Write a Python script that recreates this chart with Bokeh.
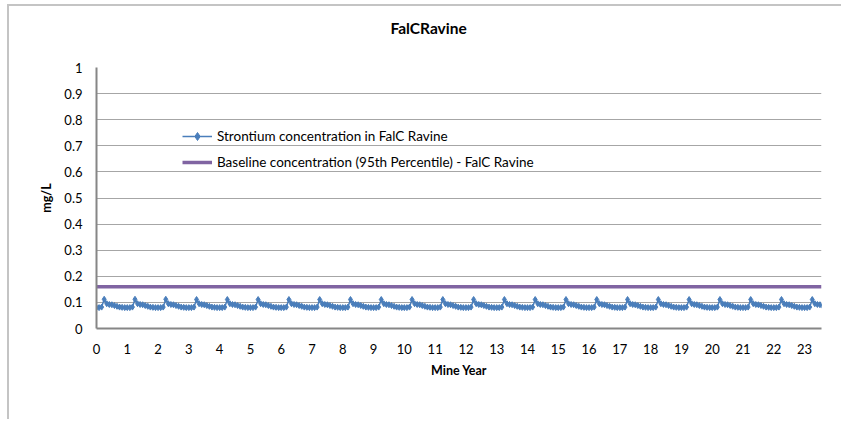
from bokeh.plotting import figure
from bokeh.models import Range1d, FixedTicker, NumeralTickFormatter, Legend, LegendItem, Title
from bokeh.embed import file_html
from bokeh.resources import INLINE

title_text = "FalCRavine"
x_label = "Mine Year"
y_label = "mg/L"
series_name = "Strontium concentration in FalC Ravine"
baseline_name = "Baseline concentration (95th Percentile) - FalC Ravine"

# monthly strontium concentration (mg/L), one row per mine year (12 months)
strontium_by_year = [
    [0.080, 0.080, 0.082, 0.112, 0.095, 0.092, 0.091, 0.088, 0.085, 0.082, 0.081, 0.080],
    [0.080, 0.080, 0.082, 0.112, 0.095, 0.092, 0.091, 0.088, 0.085, 0.082, 0.081, 0.080],
    [0.080, 0.080, 0.082, 0.112, 0.095, 0.092, 0.091, 0.088, 0.085, 0.082, 0.081, 0.080],
    [0.080, 0.080, 0.082, 0.111, 0.095, 0.092, 0.091, 0.088, 0.085, 0.082, 0.081, 0.080],
    [0.080, 0.080, 0.082, 0.111, 0.095, 0.092, 0.091, 0.088, 0.085, 0.082, 0.081, 0.080],
    [0.080, 0.080, 0.082, 0.111, 0.095, 0.092, 0.091, 0.088, 0.085, 0.082, 0.081, 0.080],
    [0.080, 0.080, 0.082, 0.111, 0.095, 0.092, 0.091, 0.088, 0.085, 0.082, 0.081, 0.080],
    [0.080, 0.080, 0.082, 0.111, 0.095, 0.092, 0.091, 0.088, 0.085, 0.082, 0.081, 0.080],
    [0.080, 0.080, 0.082, 0.111, 0.095, 0.092, 0.091, 0.088, 0.085, 0.082, 0.081, 0.080],
    [0.080, 0.080, 0.082, 0.111, 0.095, 0.092, 0.091, 0.088, 0.085, 0.082, 0.081, 0.080],
    [0.080, 0.080, 0.082, 0.111, 0.095, 0.092, 0.091, 0.088, 0.085, 0.082, 0.081, 0.080],
    [0.080, 0.080, 0.082, 0.111, 0.095, 0.092, 0.091, 0.088, 0.085, 0.082, 0.081, 0.080],
    [0.080, 0.080, 0.082, 0.111, 0.095, 0.092, 0.091, 0.088, 0.085, 0.082, 0.081, 0.080],
    [0.080, 0.080, 0.082, 0.111, 0.095, 0.092, 0.091, 0.088, 0.085, 0.082, 0.081, 0.080],
    [0.080, 0.080, 0.082, 0.111, 0.095, 0.092, 0.091, 0.088, 0.085, 0.082, 0.081, 0.080],
    [0.080, 0.080, 0.082, 0.111, 0.095, 0.092, 0.091, 0.088, 0.085, 0.082, 0.081, 0.080],
    [0.080, 0.080, 0.082, 0.111, 0.095, 0.092, 0.091, 0.088, 0.085, 0.082, 0.081, 0.080],
    [0.080, 0.080, 0.082, 0.111, 0.095, 0.092, 0.091, 0.088, 0.085, 0.082, 0.081, 0.080],
    [0.080, 0.080, 0.082, 0.111, 0.095, 0.092, 0.091, 0.088, 0.085, 0.082, 0.081, 0.080],
    [0.080, 0.080, 0.082, 0.111, 0.095, 0.092, 0.091, 0.088, 0.085, 0.082, 0.081, 0.080],
    [0.080, 0.080, 0.082, 0.111, 0.095, 0.092, 0.091, 0.088, 0.085, 0.082, 0.081, 0.080],
    [0.080, 0.080, 0.082, 0.111, 0.095, 0.092, 0.091, 0.088, 0.085, 0.082, 0.081, 0.080],
    [0.080, 0.080, 0.082, 0.111, 0.095, 0.092, 0.091, 0.088, 0.085, 0.082, 0.081, 0.080],
    [0.080, 0.080, 0.082, 0.111, 0.095, 0.092, 0.091, 0.087],
]
baseline_value = 0.16
months_per_year = 12

x_start, x_end = 0, 23.55
y_ticks = [0, 0.1, 0.2, 0.3, 0.4, 0.5, 0.6, 0.7, 0.8, 0.9, 1.0]
x_ticks = list(range(24))

sr_x, sr_y = [], []
for yr, row in enumerate(strontium_by_year):
    for m, v in enumerate(row):
        sr_x.append(yr + m / months_per_year)
        sr_y.append(v)

FONT = "Lato"
BLUE = "#4a7ebb"
PURPLE = "#8064a2"

p = figure(width=834, height=415, output_backend="svg", toolbar_location=None,
           x_range=Range1d(x_start, x_end), y_range=Range1d(0, 1),
           min_border_left=87, min_border_right=22, min_border_top=10, min_border_bottom=93)
p.styles = {"margin-left": "7px", "margin-top": "4px",
            "border-left": "2px solid #c4c4c4", "border-top": "2px solid #c4c4c4"}
p.outline_line_color = None
p.background_fill_color = "white"
p.border_fill_color = "white"

p.title.text = title_text
p.title.align = "left"
p.title.offset = 294
p.title.standoff = 20
p.title.vertical_align = "bottom"
p.title.text_font = FONT
p.title.text_font_size = "15.5px"
p.title.text_font_style = "bold"
p.title.text_color = "#000000"
# empty spacer between title and plot area
p.add_layout(Title(text=" ", standoff=3, text_font_size="14px"), "above")

p.xgrid.visible = False
p.ygrid.grid_line_color = "#a6a6a6"
p.ygrid.grid_line_width = 1
p.yaxis.ticker = FixedTicker(ticks=y_ticks)
p.xaxis.ticker = FixedTicker(ticks=x_ticks)
p.yaxis.formatter = NumeralTickFormatter(format="0.[0]")

for ax in (p.xaxis, p.yaxis):
    ax.axis_line_color = "#868686"
    ax.axis_line_width = 2
    ax.major_tick_line_color = None
    ax.minor_tick_line_color = None
    ax.major_tick_out = 0
    ax.major_tick_in = 0
    ax.major_label_text_font = FONT
    ax.major_label_text_font_size = "13px"
    ax.major_label_text_color = "#000000"
    ax.axis_label_text_font = FONT
    ax.axis_label_text_font_size = "12.5px"
    ax.axis_label_text_font_style = "bold"
    ax.axis_label_text_color = "#000000"

p.xaxis.major_label_standoff = 15
p.yaxis.major_label_standoff = 14
p.xaxis.axis_label = x_label
p.yaxis.axis_label = y_label
p.xaxis.axis_label_standoff = 6
p.yaxis.axis_label_standoff = 7

base = p.line(x=[x_start, x_end], y=[baseline_value, baseline_value], line_color=PURPLE, line_width=3.5)
sr_line = p.line(x=sr_x, y=sr_y, line_color=BLUE, line_width=1.5)
sr_pts = p.scatter(x=sr_x, y=sr_y, marker="diamond", size=6, fill_color=BLUE, line_color=BLUE)

legend = Legend(items=[LegendItem(label=series_name, renderers=[sr_line, sr_pts]),
                       LegendItem(label=baseline_name, renderers=[base])],
                location=(86, 156), orientation="vertical",
                background_fill_alpha=0, border_line_color=None,
                padding=0, margin=0, spacing=6,
                glyph_width=30, glyph_height=20, label_height=20, label_standoff=5,
                label_text_font=FONT, label_text_font_size="13.5px", label_text_color="#000000")
p.add_layout(legend)

open("out.html", "w").write(file_html(p, INLINE))
